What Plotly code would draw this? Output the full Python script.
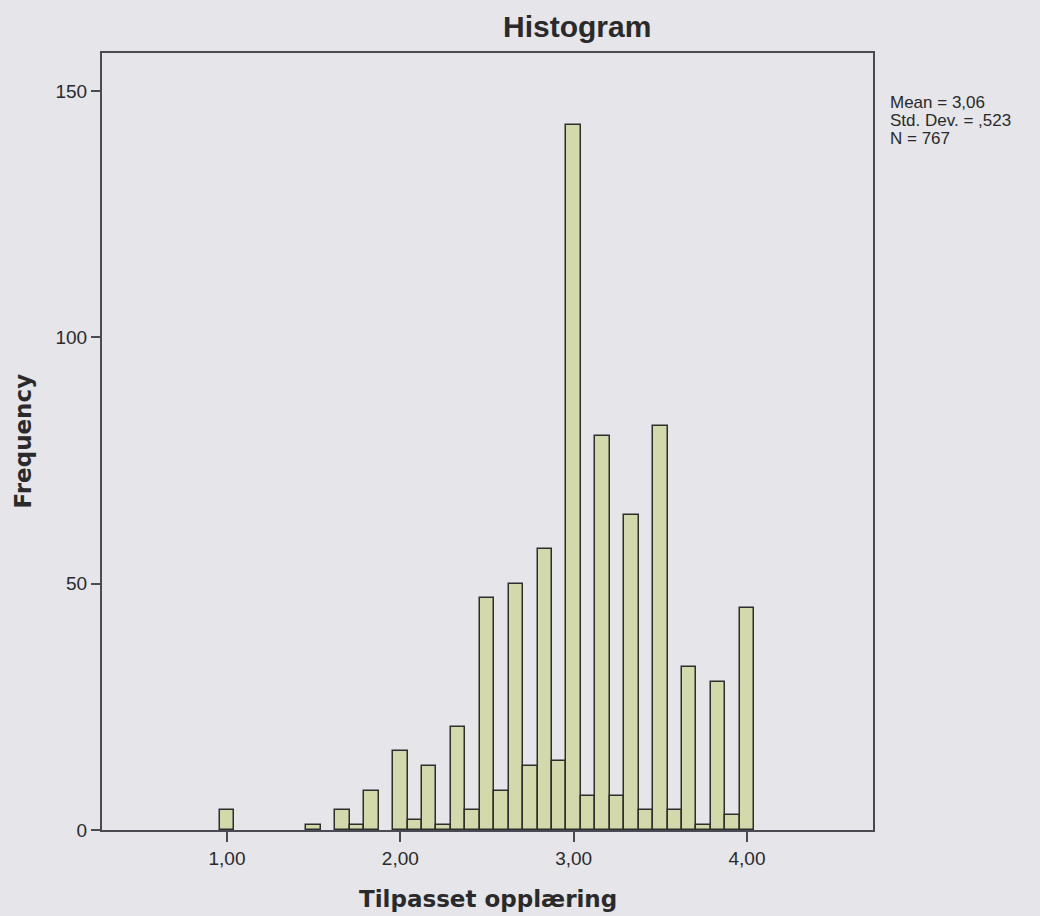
import plotly.graph_objects as go

# Bin centres (value = k/12) and frequencies
bin_twelfths = [12, 18, 20, 21, 22, 24, 25, 26, 27, 28, 29, 30, 31, 32, 33, 34, 35,
                36, 37, 38, 39, 40, 41, 42, 43, 44, 45, 46, 47, 48]
frequencies = [4, 1, 4, 1, 8, 16, 2, 13, 1, 21, 4, 47, 8, 50, 13, 57, 14,
               143, 7, 80, 7, 64, 4, 82, 4, 33, 1, 30, 3, 45]
bin_centers = [k / 12 for k in bin_twelfths]
bin_width = 1 / 12

x_tick_values = [1, 2, 3, 4]
x_tick_labels = ["1,00", "2,00", "3,00", "4,00"]
y_tick_values = [0, 50, 100, 150]
y_tick_labels = ["0", "50", "100", "150"]

stats_lines = ["Mean = 3,06", "Std. Dev. = ,523", "N = 767"]

BG = "#e5e5ea"
BAR_FILL = "#d3d9aa"
BAR_EDGE = "#2e2e2e"
AXIS = "#4a4a52"
TEXT = "#2a2a2a"
SANS = "Arial, Liberation Sans, sans-serif"
WIDE = "DejaVu Sans, Verdana, sans-serif"

L, R, T, B = 102, 873, 53, 830
PW, PH = R - L, B - T

fig = go.Figure()
fig.add_trace(go.Bar(
    x=bin_centers,
    y=frequencies,
    width=bin_width,
    marker=dict(color=BAR_FILL, line=dict(color=BAR_EDGE, width=1.5)),
    showlegend=False,
    hoverinfo="x+y",
))

fig.update_layout(
    width=1040,
    height=916,
    paper_bgcolor=BG,
    plot_bgcolor=BG,
    margin=dict(l=L, r=1040 - R, t=T, b=916 - B),
    bargap=0,
    font=dict(family=SANS, color=TEXT),
)

axis_common = dict(
    ticks="outside",
    tickwidth=2,
    tickcolor=AXIS,
    tickfont=dict(family=SANS, size=19, color=TEXT),
    showline=True,
    linecolor=AXIS,
    linewidth=2,
    mirror=True,
    showgrid=False,
    zeroline=False,
)
fig.update_xaxes(range=[0.279, 4.727], tickvals=x_tick_values,
                 ticktext=x_tick_labels, ticklen=10, **axis_common)
fig.update_yaxes(range=[0, 157.7], tickvals=y_tick_values,
                 ticktext=y_tick_labels, ticklen=9, **axis_common)


def px_x(x):
    return (x - L) / PW


def px_y(y):
    return (B - y) / PH


# Title
fig.add_annotation(
    text="<b>Histogram</b>", xref="paper", yref="paper",
    x=px_x(577), y=px_y(27),
    xanchor="center", yanchor="middle", showarrow=False,
    font=dict(family=SANS, size=30, color=TEXT),
)
# Axis titles
fig.add_annotation(
    text="<b>Tilpasset opplæring</b>", xref="paper", yref="paper",
    x=0.5, y=px_y(899),
    xanchor="center", yanchor="middle", showarrow=False,
    font=dict(family=WIDE, size=23, color=TEXT),
)
fig.add_annotation(
    text="<b>Frequency</b>", xref="paper", yref="paper",
    x=px_x(22), y=0.5, textangle=-90,
    xanchor="center", yanchor="middle", showarrow=False,
    font=dict(family=WIDE, size=23, color=TEXT),
)
# Statistics text, one line per annotation for tight spacing
for i, line in enumerate(stats_lines):
    fig.add_annotation(
        text=line, xref="paper", yref="paper",
        x=px_x(888), y=px_y(102 + 18.5 * i),
        xanchor="left", yanchor="middle", align="left", showarrow=False,
        font=dict(family=SANS, size=17, color=TEXT),
    )

fig.write_html(
    "out.html",
    config={"displayModeBar": False},
    post_script="document.body.style.margin='0';document.body.style.background='%s';" % BG,
)
